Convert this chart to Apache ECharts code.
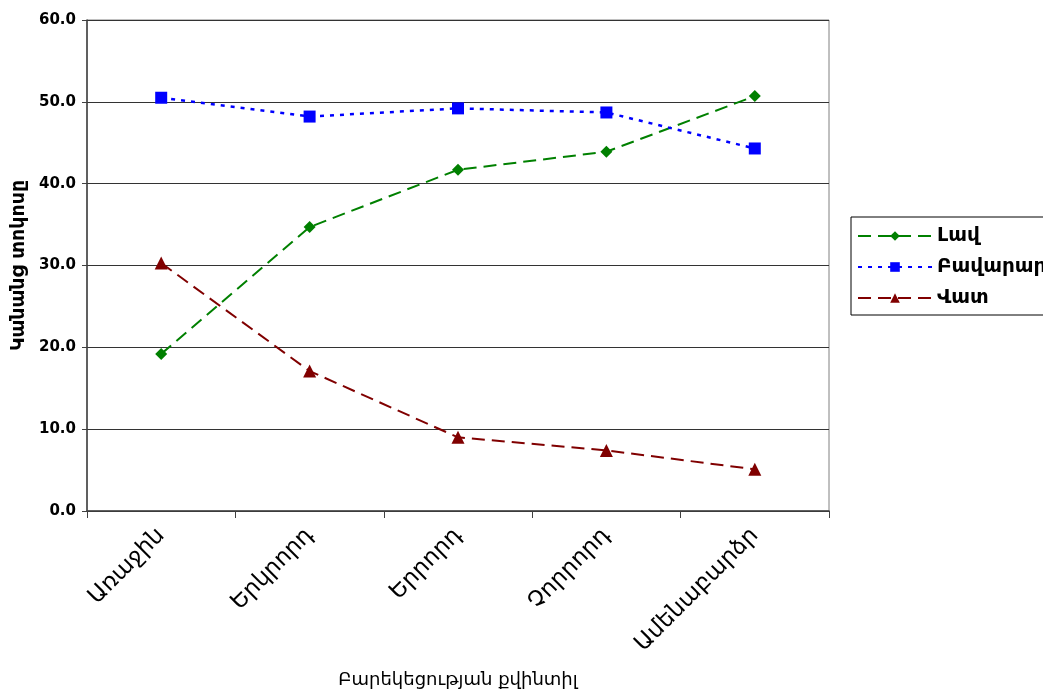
<!DOCTYPE html>
<html>
<head>
<meta charset="utf-8">
<script src="https://cdn.jsdelivr.net/npm/echarts@6/dist/echarts.min.js"></script>
<style>html,body{margin:0;padding:0;background:#fff;}#c{width:1043px;height:689px;}</style>
</head>
<body>
<div id="c"></div>
<script>
const categories = ["Առաջին", "Երկրորդ", "Երրորդ", "Չորրորդ", "Ամենաբարձր"];
const seriesNames = ["Լավ", "Բավարար", "Վատ"];
const lav = [19.2, 34.7, 41.7, 43.9, 50.7];
const bavarar = [50.5, 48.2, 49.2, 48.7, 44.3];
const vat = [30.3, 17.1, 9.0, 7.4, 5.1];
const yAxisName = "Կանանց տոկոսը";
const xAxisName = "Բարեկեցության քվինտիլ";

const chart = echarts.init(document.getElementById('c'));
const armFont = '"DejaVu Sans", "Liberation Sans", sans-serif';
chart.setOption({
  animation: false,
  backgroundColor: '#fff',
  grid: { left: 87, right: 214, top: 20, bottom: 178, show: true, borderColor: '#808080', borderWidth: 1,
          containLabel: false, outerBoundsMode: 'none' },
  legend: {
    orient: 'vertical', left: 851, top: 217,
    itemWidth: 74, itemHeight: 12, itemGap: 11,
    padding: [9, 12, 7, 6],
    borderColor: '#000', borderWidth: 1, borderRadius: 0, backgroundColor: '#fff',
    textStyle: { fontFamily: armFont, fontWeight: 'bold', fontSize: 20, color: '#000' },
    data: seriesNames
  },
  xAxis: {
    type: 'category', data: categories, boundaryGap: true,
    name: xAxisName, nameLocation: 'middle', nameGap: 160,
    nameTextStyle: { fontFamily: armFont, fontSize: 18, color: '#000' },
    axisLine: { lineStyle: { color: '#404040', width: 1.5 } },
    axisTick: { show: true, length: 7, lineStyle: { color: '#404040' } },
    axisLabel: { rotate: 45, fontFamily: armFont, fontSize: 23, color: '#000', margin: 21 }
  },
  yAxis: {
    type: 'value', min: 0, max: 60, interval: 10,
    name: yAxisName, nameLocation: 'middle', nameGap: 58,
    nameTextStyle: { fontFamily: armFont, fontWeight: 'bold', fontSize: 19, color: '#000' },
    axisLine: { show: true, lineStyle: { color: '#404040', width: 1.5 } },
    axisTick: { show: true, length: 5, lineStyle: { color: '#404040' } },
    axisLabel: { formatter: v => v.toFixed(1), fontFamily: '"DejaVu Sans", sans-serif', fontWeight: 'bold', fontSize: 15, color: '#000', margin: 11 },
    splitLine: { lineStyle: { color: '#333', width: 1 } }
  },
  series: [
    { name: seriesNames[0], type: 'line', data: lav, symbol: 'diamond', symbolSize: 12,
      itemStyle: { color: '#008000' }, lineStyle: { color: '#008000', width: 2, type: [13, 7] } },
    { name: seriesNames[1], type: 'line', data: bavarar, symbol: 'rect', symbolSize: 12,
      itemStyle: { color: '#0000ff' }, lineStyle: { color: '#0000ff', width: 2.5, type: [4, 6] } },
    { name: seriesNames[2], type: 'line', data: vat, symbol: 'triangle', symbolSize: 13,
      itemStyle: { color: '#800000' }, lineStyle: { color: '#800000', width: 2, type: [13, 7] } }
  ]
});
</script>
</body>
</html>
